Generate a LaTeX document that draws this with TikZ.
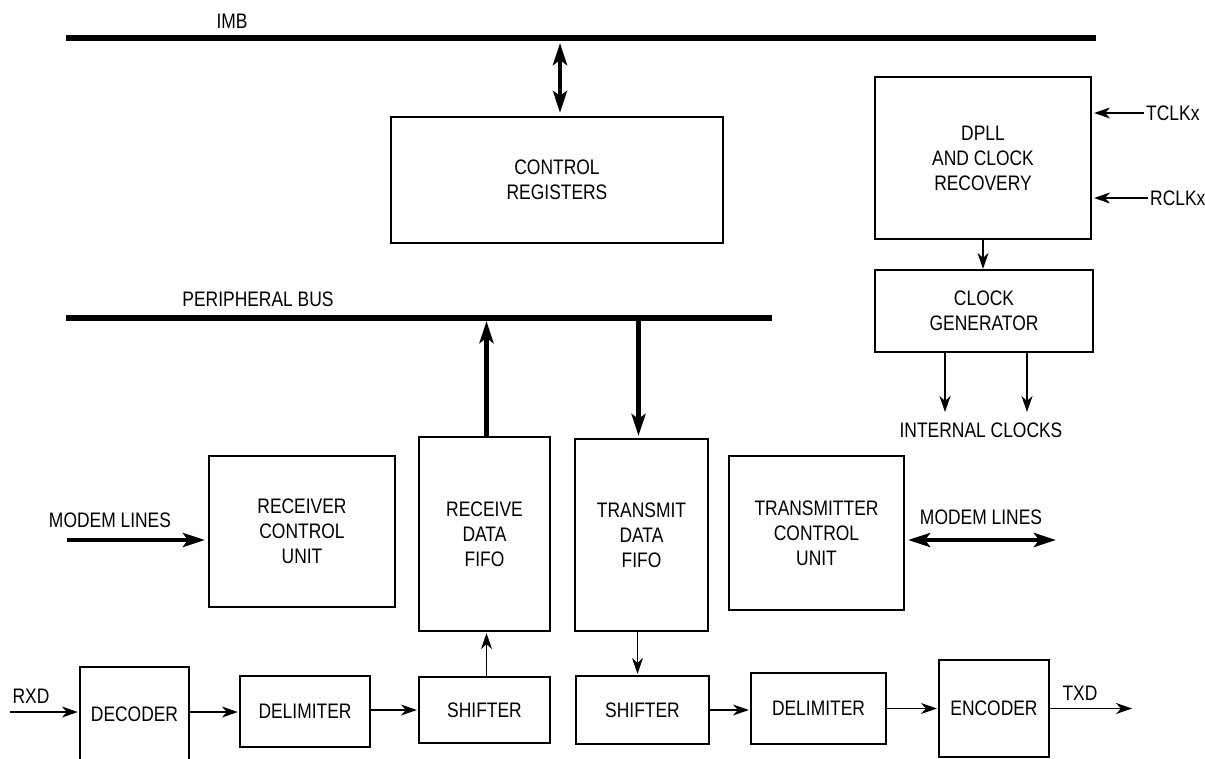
\documentclass[tikz,border=0pt]{standalone}
\usepackage{fontspec}
\setmainfont{Liberation Sans}[FakeStretch=0.83]
\usetikzlibrary{arrows.meta}
\newcommand\lblfnt{\fontsize{21}{25}\selectfont}
\tikzset{
  box/.style={draw, line width=2.2pt, inner sep=0pt, align=center, font=\lblfnt},
  lbl/.style={inner sep=0pt, font=\lblfnt},
  thinarr/.style={line width=1.3pt, -{Stealth[length=16pt,width=11pt,inset=5pt]}},
  bigarr/.style={line width=4.5pt, -{Stealth[length=22pt,width=14pt,inset=5pt]}},
  bigboth/.style={line width=4.5pt, {Stealth[length=22pt,width=14pt,inset=5pt]}-{Stealth[length=22pt,width=14pt,inset=5pt]}},
  bus/.style={line width=5.5pt}
}
\begin{document}
\begin{tikzpicture}[x=1pt,y=-1pt]
\useasboundingbox (0,0) rectangle (1205,758);
\clip (0,0) rectangle (1205,758);
\fill[white] (0,0) rectangle (1205,758);

% buses
\coordinate (imbL) at (66,38);
\coordinate (imbR) at (1096,38);
\coordinate (pbL) at (66,318);
\coordinate (pbR) at (772,318);
\draw[bus] (imbL) -- (imbR);
\draw[bus] (pbL) -- (pbR);
\node[lbl] (imb) at (232,21) {IMB};
\node[lbl] (pb) at (258,299) {PERIPHERAL BUS};

% boxes
\node[box, minimum width=332pt, minimum height=126pt] (ctrl) at (557,180) {CONTROL\\REGISTERS};
\node[box, minimum width=216pt, minimum height=162pt] (dpll) at (983,158) {DPLL\\AND CLOCK\\RECOVERY};
\node[box, minimum width=218pt, minimum height=82pt] (clkgen) at (984,311) {CLOCK\\GENERATOR};
\node[box, minimum width=186pt, minimum height=151pt] (rcu) at (302,531.5) {RECEIVER\\CONTROL\\UNIT};
\node[box, minimum width=131pt, minimum height=194pt] (rfifo) at (484.5,534) {RECEIVE\\DATA\\FIFO};
\node[box, minimum width=133pt, minimum height=192pt] (tfifo) at (641.5,535) {TRANSMIT\\DATA\\FIFO};
\node[box, minimum width=175pt, minimum height=154pt] (tcu) at (816.5,533) {TRANSMITTER\\CONTROL\\UNIT};
\node[box, minimum width=109pt, minimum height=95pt] (decoder) at (134.5,714.5) {DECODER};
\node[box, minimum width=130pt, minimum height=71pt] (rdelim) at (305,711.5) {DELIMITER};
\node[box, minimum width=131pt, minimum height=66pt] (rshift) at (484.5,710) {SHIFTER};
\node[box, minimum width=133pt, minimum height=68pt] (tshift) at (642.5,710) {SHIFTER};
\node[box, minimum width=135pt, minimum height=71pt] (tdelim) at (818.5,708.5) {DELIMITER};
\node[box, minimum width=110pt, minimum height=97pt] (encoder) at (994,708.5) {ENCODER};

% labels
\node[lbl] (mlL) at (110,520) {MODEM LINES};
\node[lbl] (mlR) at (981,517) {MODEM LINES};
\node[lbl] (ic) at (981,430) {INTERNAL CLOCKS};
\node[lbl, anchor=west] (tclk) at (1146,113) {TCLKx};
\node[lbl, anchor=west] (rclk) at (1150,198) {RCLKx};
\node[lbl] (rxd) at (31,696) {RXD};
\node[lbl] (txd) at (1080,693) {TXD};

% coordinates for free ends
\coordinate (imbA) at (560,41);
\coordinate (mlLin) at (67,540);
\coordinate (mlRout) at (1056,540);
\coordinate (ic1) at (945,412);
\coordinate (ic2) at (1027,412);
\coordinate (rxdin) at (10,712);
\coordinate (txdout) at (1132,708.5);

% thick connectors
\draw[bigboth, shorten <=2pt, shorten >=3pt] (imbA) -- (imbA |- ctrl.north);
\draw[bigarr, shorten >=3pt] ([xshift=2pt]rfifo.north) -- ([xshift=2pt]rfifo.north |- pbL);
\draw[bigarr, shorten >=2pt] ([xshift=-3pt]tfifo.north |- pbL) -- ([xshift=-3pt]tfifo.north);
\draw[bigarr, shorten >=3pt] (mlLin) -- (mlLin -| rcu.west);
\draw[bigboth, shorten <=3pt] (mlLin -| tcu.east) -- (mlRout);

% thin connectors
\draw[thinarr] (dpll.south) -- (dpll.south |- clkgen.north);
\draw[thinarr] (ic1 |- clkgen.south) -- (ic1);
\draw[thinarr] (ic2 |- clkgen.south) -- (ic2);
\draw[thinarr, shorten <=2pt, shorten >=2pt] (tclk.west) -- (tclk.west -| dpll.east);
\draw[thinarr, shorten <=2pt, shorten >=2pt] (rclk.west) -- (rclk.west -| dpll.east);
\draw[thinarr, shorten >=1pt] (rxdin) -- (rxdin -| decoder.west);
\draw[thinarr, shorten >=1pt] (rxdin -| decoder.east) -- (rxdin -| rdelim.west);
\draw[thinarr, shorten >=1pt] (rshift.west -| rdelim.east) -- (rshift.west);
\draw[thinarr, shorten >=1pt] ([xshift=2pt]rshift.north) -- ([xshift=2pt]rshift.north |- rfifo.south);
\draw[thinarr, shorten >=1pt] ([xshift=-4pt]tfifo.south) -- ([xshift=-4pt]tfifo.south |- tshift.north);
\draw[thinarr, shorten >=1pt] (tshift.east) -- (tshift.east -| tdelim.west);
\draw[thinarr, shorten >=1pt] (tdelim.east) -- (tdelim.east -| encoder.west);
\draw[thinarr] (encoder.east) -- (txdout);
\end{tikzpicture}
\end{document}
